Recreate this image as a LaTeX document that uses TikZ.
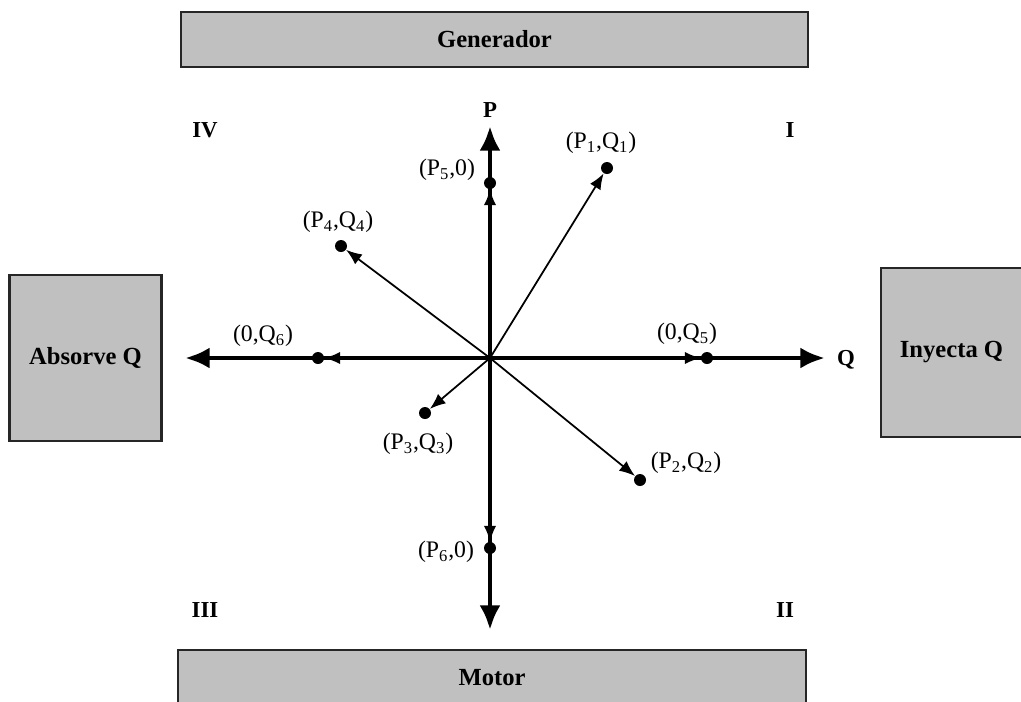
\documentclass[tikz,border=0pt]{standalone}
\usepackage{fontspec}
\setmainfont{Liberation Serif}
\usetikzlibrary{arrows.meta,positioning}
\definecolor{boxgray}{RGB}{192,192,192}

\begin{document}
\begin{tikzpicture}[
    x=0.02cm, y=-0.02cm,
    box/.style={draw=black!85, line width=1.2pt, fill=boxgray, inner sep=0pt, font=\fontsize{14}{16}\selectfont\bfseries},
    axis/.style={line width=2.8pt, {Latex[length=14pt,width=12pt]}-{Latex[length=14pt,width=12pt]}},
    vec/.style={line width=1pt, -{Latex[length=9pt,width=7pt]}},
    dot/.style={circle, fill, inner sep=0pt, minimum size=0.24cm},
    lbl/.style={font=\fontsize{13.5}{15}\selectfont, inner sep=1pt},
    quad/.style={font=\fontsize{13}{15}\selectfont\bfseries}
]
    \useasboundingbox (0,0) rectangle (1021,701);

    % cajas
    \node[box, minimum width=12.54cm, minimum height=1.1cm] (gen) at (494.5,39.5) {Generador};
    \node[box, minimum width=12.56cm, minimum height=1.1cm] (mot) at (492,677.5) {Motor};
    \node[box, minimum width=3.04cm, minimum height=3.32cm] (abs) at (85.5,358) {Absorve Q};
    \node[box, minimum width=2.82cm, minimum height=3.38cm] (iny) at (951.5,352.5) {Inyecta Q};

    % ejes
    \coordinate (O) at (490,358);
    \coordinate (up) at (490,126);
    \coordinate (down) at (490,630);
    \coordinate (left) at (185,358);
    \coordinate (right) at (825,358);
    \draw[axis] (down) -- (up);
    \draw[axis] (left) -- (right);
    \node[quad] (lP) at (490,110) {P};
    \node[quad] (lQ) at (846,360) {Q};

    % cuadrantes
    \node[quad] (q1) at (790,130) {I};
    \node[quad] (q2) at (785,610) {II};
    \node[quad] (q3) at (205,610) {III};
    \node[quad] (q4) at (205,130) {IV};

    % puntos de operacion
    \node[dot] (p1) at (607,168) {};
    \node[dot] (p2) at (640,480) {};
    \node[dot] (p3) at (425,413) {};
    \node[dot] (p4) at (341,246) {};
    \node[dot] (p5) at (490,183) {};
    \node[dot] (p6) at (490,548) {};
    \node[dot] (p7) at (707,358) {};
    \node[dot] (p8) at (318,358) {};

    \foreach \p in {p1,p2,p3,p4,p5,p6,p7,p8}
        \draw[vec] (O) -- (\p);

    % etiquetas
    \node[lbl] at (601,143) {(P\textsubscript{1},Q\textsubscript{1})};
    \node[lbl] at (686,463) {(P\textsubscript{2},Q\textsubscript{2})};
    \node[lbl] at (418,444) {(P\textsubscript{3},Q\textsubscript{3})};
    \node[lbl] at (338,222) {(P\textsubscript{4},Q\textsubscript{4})};
    \node[lbl] at (447,170) {(P\textsubscript{5},0)};
    \node[lbl] at (446,552) {(P\textsubscript{6},0)};
    \node[lbl] at (687,334) {(0,Q\textsubscript{5})};
    \node[lbl] at (263,336) {(0,Q\textsubscript{6})};
\end{tikzpicture}
\end{document}
